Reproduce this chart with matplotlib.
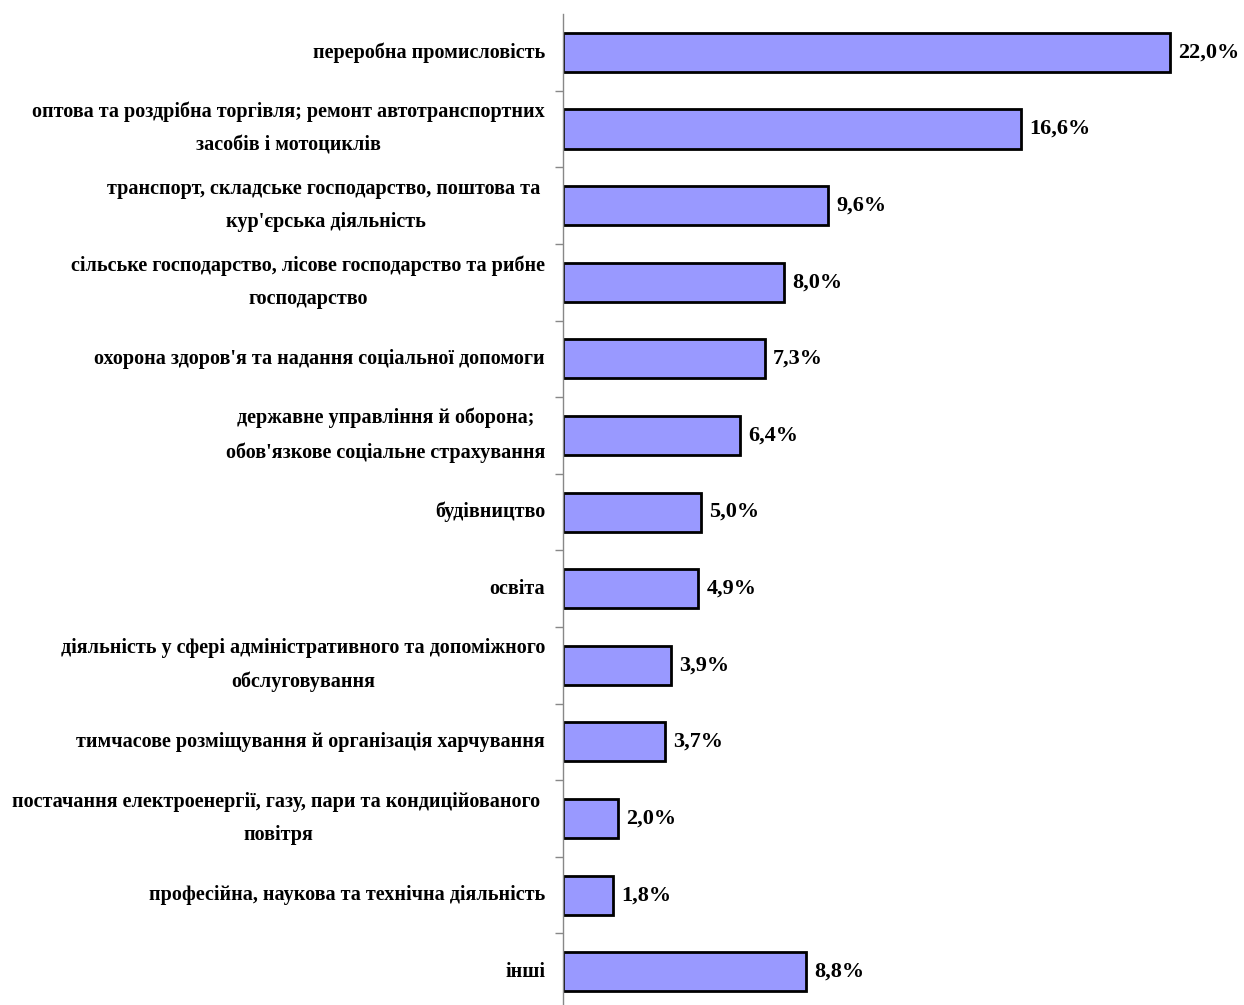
import matplotlib.pyplot as plt

# структура за видами економічної діяльності, %
categories = [
    "переробна промисловість",
    "оптова та роздрібна торгівля; ремонт автотранспортних\nзасобів і мотоциклів",
    "транспорт, складське господарство, поштова та \nкур'єрська діяльність",
    "сільське господарство, лісове господарство та рибне\nгосподарство",
    "охорона здоров'я та надання соціальної допомоги",
    "державне управління й оборона;\nобов'язкове соціальне страхування",
    "будівництво",
    "освіта",
    "діяльність у сфері адміністративного та допоміжного\nобслуговування",
    "тимчасове розміщування й організація харчування",
    "постачання електроенергії, газу, пари та кондиційованого \nповітря",
    "професійна, наукова та технічна діяльність",
    "інші",
]
values = [22.0, 16.6, 9.6, 8.0, 7.3, 6.4, 5.0, 4.9, 3.9, 3.7, 2.0, 1.8, 8.8]
value_labels = ["22,0%", "16,6%", "9,6%", "8,0%", "7,3%", "6,4%", "5,0%",
                "4,9%", "3,9%", "3,7%", "2,0%", "1,8%", "8,8%"]

plt.rcParams['font.family'] = ['Liberation Serif', 'DejaVu Serif']

fig = plt.figure(figsize=(12.44, 10.05), dpi=100)
ax = fig.add_axes([0.4526, -0.005, 0.5474, 0.991])

pos = list(range(len(values)))
ax.barh(pos, values, height=0.51, color='#9999FF', edgecolor='black', linewidth=2)

for p, v, s in zip(pos, values, value_labels):
    ax.text(v + 0.3, p, s, va='center', ha='left', fontsize=16, fontweight='bold')

for p, c in zip(pos, categories):
    ax.text(-0.65, p, c, va='center', ha='right', multialignment='center',
            fontsize=14.5, fontweight='bold', linespacing=1.9)

ax.set_xlim(0, 24.67)
ax.set_ylim(len(values) - 0.5, -0.5)

# риски між категоріями
ax.set_yticks([p + 0.5 for p in pos[:-1]])
ax.set_yticklabels([])
ax.tick_params(axis='y', direction='out', length=6, color='#888888', width=1)
ax.set_xticks([])

for side in ['top', 'right', 'bottom']:
    ax.spines[side].set_visible(False)
ax.spines['left'].set_color('#888888')
ax.spines['left'].set_linewidth(1)

fig.savefig('out.png', dpi=100, facecolor='white')
